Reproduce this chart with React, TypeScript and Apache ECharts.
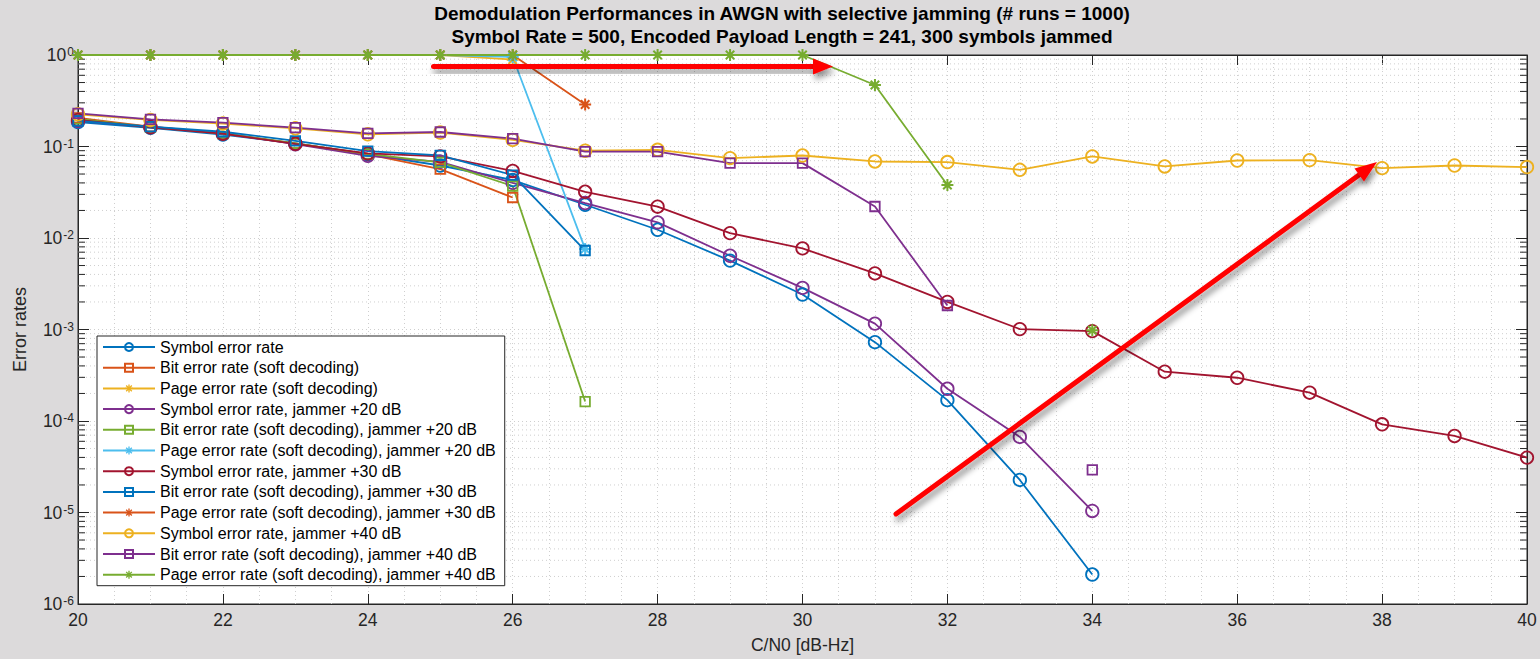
import React, { useEffect, useRef } from "react";
import * as echarts from "echarts";

// ---------------- data ----------------
const snrDb = [20, 21, 22, 23, 24, 25, 26, 27, 28, 29, 30, 31, 32, 33, 34, 35, 36, 37, 38, 39, 40];

const symNoJam = [0.185, 0.16, 0.135, 0.108, 0.082, 0.062, 0.043, 0.0231, 0.0123, 0.00566, 0.00241, 0.000727, 0.000169, 0.0000227, 0.0000021];
const bitNoJam = [0.205, 0.165, 0.138, 0.108, 0.082, 0.0565, 0.0277];
const pageNoJam = [1, 1, 1, 1, 1, 1, 0.89];
const sym20 = [0.19, 0.165, 0.14, 0.106, 0.079, 0.068, 0.04, 0.0241, 0.0148, 0.0064, 0.00285, 0.00116, 0.000225, 0.000067, 0.0000104];
const bit20 = [0.2, 0.163, 0.14, 0.108, 0.083, 0.067, 0.037, 0.000163];
const page20 = [1, 1, 1, 1, 1, 1, 0.95, 0.0076];
const sym30 = [0.195, 0.162, 0.138, 0.107, 0.084, 0.078, 0.054, 0.032, 0.022, 0.0113, 0.0077, 0.0041, 0.002, 0.00101, 0.00096, 0.000346, 0.000297, 0.000204, 0.000092, 0.0000686, 0.0000398];
const bit30 = [0.19, 0.165, 0.145, 0.115, 0.089, 0.08, 0.0486, 0.0073];
const page30 = [1, 1, 1, 1, 1, 1, 1, 0.288];
const sym40 = [0.225, 0.195, 0.178, 0.158, 0.136, 0.142, 0.118, 0.09, 0.092, 0.0746, 0.0797, 0.0686, 0.0676, 0.0556, 0.0778, 0.0605, 0.0703, 0.071, 0.058, 0.062, 0.0596];
const bit40 = [0.23, 0.198, 0.182, 0.161, 0.139, 0.144, 0.122, 0.088, 0.088, 0.0658, 0.0658, 0.0221, 0.00183, null, 0.0000292];
const page40 = [1, 1, 1, 1, 1, 1, 1, 1, 1, 1, 1, 0.47, 0.038, null, 0.00098];

const seriesNames = [
  "Symbol error rate",
  "Bit error rate (soft decoding)",
  "Page error rate (soft decoding)",
  "Symbol error rate, jammer +20 dB",
  "Bit error rate (soft decoding), jammer +20 dB",
  "Page error rate (soft decoding), jammer +20 dB",
  "Symbol error rate, jammer +30 dB",
  "Bit error rate (soft decoding), jammer +30 dB",
  "Page error rate (soft decoding), jammer +30 dB",
  "Symbol error rate, jammer +40 dB",
  "Bit error rate (soft decoding), jammer +40 dB",
  "Page error rate (soft decoding), jammer +40 dB",
];
const seriesValues = [symNoJam, bitNoJam, pageNoJam, sym20, bit20, page20, sym30, bit30, page30, sym40, bit40, page40];

const titleLines = [
  "Demodulation Performances in AWGN with selective jamming (# runs = 1000)",
  "Symbol Rate = 500, Encoded Payload Length = 241, 300 symbols jammed",
];
const minorMultipliers = [2, 3, 4, 5, 6, 7, 8, 9];
const decades = [-6, -5, -4, -3, -2, -1];

// ---------------- styling ----------------
const FONT = "'Liberation Sans', Arial, Helvetica, sans-serif";
const AX = "#262626";
const GRID = "#cfcfcf";
const COLORS = ["#0072BD", "#D95319", "#EDB120", "#7E2F8E", "#77AC30", "#4DBEEE", "#A2142F"];
const ASTER =
  "path://M-1,-6L1,-6L1,6L-1,6Z M-6,-1L6,-1L6,1L-6,1Z M-4.95,-3.54L-3.54,-4.95L4.95,3.54L3.54,4.95Z M3.54,-4.95L4.95,-3.54L-3.54,4.95L-4.95,3.54Z";
const MARKERS = ["circle", "rect", ASTER];

function pairs(arr: (number | null)[]) {
  return arr.map((v, i) => [snrDb[i], v == null ? "-" : v]);
}

export default function App() {
  const ref = useRef<HTMLDivElement>(null);
  useEffect(() => {
    if (!ref.current) return;
    const chart = echarts.init(ref.current, undefined, { renderer: "svg" });

    const lineSeries = seriesValues.map((arr, i) => {
      const color = COLORS[i % COLORS.length];
      const sym = MARKERS[i % 3];
      const isAst = sym === ASTER;
      return {
        type: "line",
        name: seriesNames[i],
        data: pairs(arr),
        symbol: sym,
        symbolSize: isAst ? 12 : sym === "circle" ? 12.5 : 9.5,
        showAllSymbol: true,
        connectNulls: false,
        lineStyle: { color, width: 1.8 },
        itemStyle: {
          color: isAst ? color : "rgba(255,255,255,0)",
          borderColor: color,
          borderWidth: isAst ? 0 : 1.8,
        },
        emphasis: { disabled: true },
        z: 3,
      };
    });

    const minorSeries = {
      type: "custom",
      name: "minor",
      silent: true,
      z: 1,
      data: [[20, 1]],
      renderItem: (params: any, api: any) => {
        const x0 = api.coord([20, 1])[0];
        const x1 = api.coord([40, 1])[0];
        const children: any[] = [];
        decades.forEach((d) => {
          minorMultipliers.forEach((m) => {
            const y = api.coord([20, m * Math.pow(10, d)])[1];
            children.push({
              type: "line",
              shape: { x1: x0, y1: y, x2: x1, y2: y },
              style: { stroke: GRID, lineWidth: 1, lineDash: [1, 3] },
            });
            children.push({
              type: "line",
              shape: { x1: x0, y1: y, x2: x0 + 7, y2: y },
              style: { stroke: AX, lineWidth: 1 },
            });
            children.push({
              type: "line",
              shape: { x1: x1, y1: y, x2: x1 - 7, y2: y },
              style: { stroke: AX, lineWidth: 1 },
            });
          });
        });
        return { type: "group", children };
      },
    };

    const arrowShadow = {
      shadowBlur: 6,
      shadowColor: "rgba(0,0,0,0.45)",
      shadowOffsetX: 2,
      shadowOffsetY: 5,
    };

    const xBase = {
      type: "value",
      min: 20,
      max: 40,
      interval: 2,
      axisLine: { show: true, lineStyle: { color: AX, width: 1 } },
      axisTick: { show: true, inside: true, length: 10, lineStyle: { color: AX } },
      minorTick: { show: false, splitNumber: 4 },
    };
    const yBase = {
      type: "log",
      logBase: 10,
      min: 1e-6,
      max: 1,
      splitNumber: 6,
      axisLine: { show: true, lineStyle: { color: AX, width: 1 } },
      axisTick: { show: true, inside: true, length: 11, lineStyle: { color: AX } },
    };

    const titleStyle = { fontFamily: FONT, fontSize: 19, fontWeight: "bold", color: "#000" };

    const option: any = {
      animation: false,
      backgroundColor: "#dcdadb",
      title: [
        { text: titleLines[0], left: 782, top: 4, padding: 0, textAlign: "center", textStyle: titleStyle },
        { text: titleLines[1], left: 782, top: 27, padding: 0, textAlign: "center", textStyle: titleStyle },
      ],
      grid: {
        left: 78,
        right: 13,
        top: 55,
        bottom: 53,
        show: true,
        backgroundColor: "#ffffff",
        borderColor: AX,
        borderWidth: 1,
        containLabel: false,
      },
      legend: {
        data: seriesNames,
        orient: "vertical",
        left: 97,
        top: 336,
        padding: [1, 9, 1, 5],
        itemWidth: 52,
        itemHeight: 10,
        itemGap: 0.7,
        backgroundColor: "#ffffff",
        borderColor: AX,
        borderWidth: 1,
        borderRadius: 0,
        selectedMode: false,
        textStyle: { fontFamily: FONT, fontSize: 16, color: "#000", lineHeight: 20 },
      },
      xAxis: [
        {
          ...xBase,
          position: "bottom",
          name: "C/N0 [dB-Hz]",
          nameLocation: "middle",
          nameGap: 32,
          nameTextStyle: { fontFamily: FONT, fontSize: 17.5, color: AX },
          axisLabel: { show: true, margin: 7, fontFamily: FONT, fontSize: 17.5, color: AX },
          splitLine: { show: true, lineStyle: { color: GRID, type: [1, 3], width: 1 } },
          minorSplitLine: { show: true, lineStyle: { color: GRID, type: [1, 3], width: 1 } },
        },
        {
          ...xBase,
          position: "top",
          axisLabel: { show: false },
          splitLine: { show: false },
        },
      ],
      yAxis: [
        {
          ...yBase,
          position: "left",
          name: "Error rates",
          nameLocation: "middle",
          nameGap: 49,
          nameTextStyle: { fontFamily: FONT, fontSize: 18, color: AX },
          axisLabel: {
            show: true,
            margin: 4,
            formatter: (v: number) => {
              const e = Math.round(Math.log10(v));
              return "{b|10}{s|" + e + "}";
            },
            rich: {
              b: { fontFamily: FONT, fontSize: 17.5, color: AX },
              s: { fontFamily: FONT, fontSize: 12, color: AX, verticalAlign: "top", padding: [0, 0, 0, 1] },
            },
          },
          splitLine: { show: true, lineStyle: { color: GRID, type: [1, 3], width: 1 } },
        },
        {
          ...yBase,
          position: "right",
          axisLabel: { show: false },
          splitLine: { show: false },
        },
      ],
      series: [minorSeries, ...lineSeries],
      graphic: [
        {
          type: "rect",
          z: 100,
          shape: { x: 431, y: 64, width: 385, height: 5, r: 2.5 },
          style: { fill: "#ff0000", ...arrowShadow },
        },
        {
          type: "polygon",
          z: 100,
          shape: { points: [[833, 66.5], [813, 58.5], [813, 74.5]] },
          style: { fill: "#ff0000", ...arrowShadow },
        },
        {
          type: "line",
          z: 100,
          shape: { x1: 896, y1: 514, x2: 1361, y2: 173.5 },
          style: { stroke: "#ff0000", lineWidth: 5, lineCap: "round", ...arrowShadow },
        },
        {
          type: "polygon",
          z: 100,
          shape: { points: [[1377, 162], [1364, 181.5], [1354.5, 168.5]] },
          style: { fill: "#ff0000", ...arrowShadow },
        },
      ],
    };

    chart.setOption(option);
    return () => chart.dispose();
  }, []);

  return (
    <div
      ref={ref}
      style={{ position: "absolute", left: 0, top: 0, width: 1540, height: 659 }}
    />
  );
}
